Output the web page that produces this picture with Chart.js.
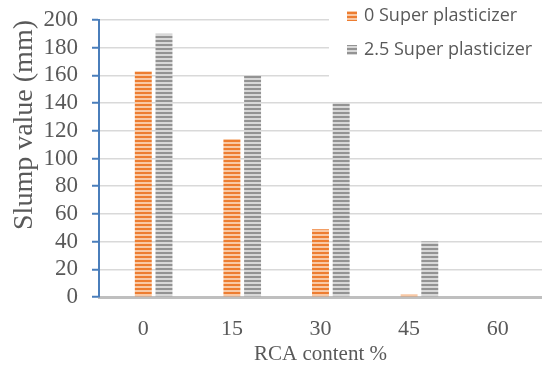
<!DOCTYPE html>
<html>
<head>
<meta charset="utf-8">
<script src="https://cdn.jsdelivr.net/npm/chart.js@4/dist/chart.umd.min.js"></script>
<style>
  html, body { margin: 0; padding: 0; background: #fff; }
  #wrap { width: 542px; height: 367px; position: relative; }
</style>
</head>
<body>
<div id="wrap"><canvas id="chart" width="542" height="367"></canvas></div>
<script>
// RCA replacement level (%) on the category axis
const categories = ['0', '15', '30', '45', '60'];
const seriesNames = ['0 Super plasticizer', '2.5 Super plasticizer'];
// Slump (mm) for each mix
const slumpNoSP = [163, 114, 49, 2, 0];
const slumpWithSP = [190, 160, 140, 40, 0];
const yTickValues = [0, 20, 40, 60, 80, 100, 120, 140, 160, 180, 200];

// Horizontal-stripe fills for the bars
function stripes(dark, light) {
  const c = document.createElement('canvas');
  c.width = 1; c.height = 4;
  const g = c.getContext('2d');
  g.fillStyle = dark; g.fillRect(0, 0, 1, 2);
  g.fillStyle = light; g.fillRect(0, 2, 1, 2);
  return g.createPattern(c, 'repeat');
}
const orangeFill = stripes('#ED7D31', '#F9C9A5');
const greyFill = stripes('#939393', '#D8D8D8');

const textColor = '#595959';
const serif = "'Liberation Serif', 'Times New Roman', serif";

// Stacked legend in the upper-right corner of the plot
const cornerLegend = {
  id: 'cornerLegend',
  afterDraw(chart) {
    const ctx = chart.ctx;
    ctx.save();
    ctx.fillStyle = '#ffffff';
    ctx.fillRect(329, 0, 213, 90);
    const items = chart.data.datasets.filter(d => d.label);
    ctx.font = "18px 'Open Sans', sans-serif";
    ctx.textBaseline = 'middle';
    items.forEach((d, i) => {
      const cy = 16 + i * 34;
      ctx.fillStyle = d.backgroundColor;
      ctx.fillRect(347, cy - 5, 10, 10);
      ctx.fillStyle = textColor;
      ctx.fillText(d.label, 364, cy);
    });
    ctx.restore();
  }
};

new Chart(document.getElementById('chart'), {
  type: 'bar',
  data: {
    labels: categories,
    datasets: [
      // empty leading slot of each group
      { label: '', data: categories.map(() => null), backgroundColor: 'rgba(0,0,0,0)' },
      { label: seriesNames[0], data: slumpNoSP, backgroundColor: orangeFill, borderWidth: 0 },
      { label: seriesNames[1], data: slumpWithSP, backgroundColor: greyFill, borderWidth: 0 }
    ]
  },
  options: {
    responsive: false,
    animation: false,
    devicePixelRatio: 1,
    layout: { padding: { top: 20, right: 0, left: 0, bottom: 0 } },
    datasets: { bar: { categoryPercentage: 0.7, barPercentage: 0.82 } },
    plugins: { legend: { display: false }, tooltip: { enabled: false } },
    scales: {
      x: {
        afterFit: s => { s.height = 70; s.paddingLeft = 0; s.paddingRight = 0; },
        grid: { display: false },
        border: { display: true, color: '#BFBFBF', width: 3 },
        ticks: { color: textColor, font: { family: serif, size: 22 }, padding: 11 },
        title: { display: true, text: 'RCA content %', color: textColor,
                 font: { family: serif, size: 21 }, padding: { top: 0, bottom: 0 } }
      },
      y: {
        min: 0, max: 200,
        afterFit: s => { s.width = 99; s.paddingTop = 0; s.paddingBottom = 0; },
        afterBuildTicks: s => { s.ticks = yTickValues.map(v => ({ value: v })); },
        grid: { color: '#D9D9D9', lineWidth: 1.5, tickColor: '#4A7EBB', tickLength: 7, tickWidth: 2 },
        border: { display: true, color: '#4A7EBB', width: 2 },
        ticks: { color: textColor, font: { family: serif, size: 23 }, padding: 14, autoSkip: false },
        title: { display: true, text: 'Slump value (mm)', color: textColor, align: 'end',
                 font: { family: serif, size: 28 }, padding: { top: 8, bottom: 0 } }
      }
    }
  },
  plugins: [cornerLegend]
});
</script>
</body>
</html>
